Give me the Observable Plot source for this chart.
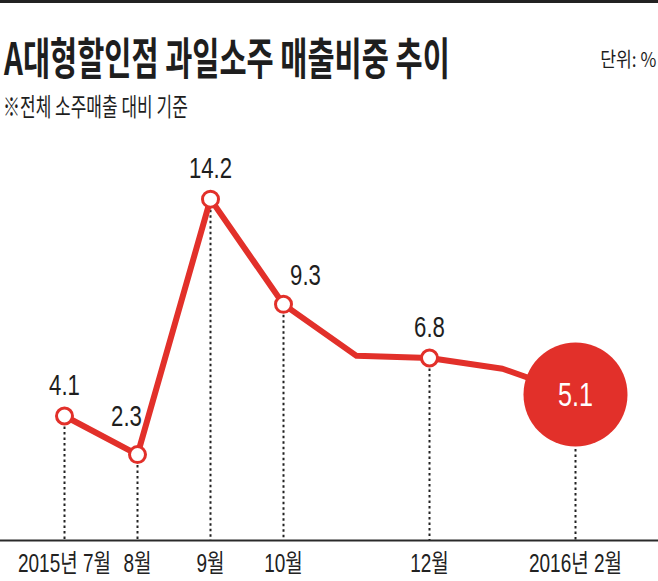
<!DOCTYPE html>
<html><head><meta charset="utf-8">
<script src="https://cdn.jsdelivr.net/npm/d3@7"></script>
<script src="https://cdn.jsdelivr.net/npm/@observablehq/plot@0.6"></script>
<style>
body{margin:0;background:#fff;}
#wrap{position:relative;width:658px;height:581px;overflow:hidden;background:#fff;}
#bar{position:absolute;left:0;top:0;width:658px;height:3px;background:#222;}
.h{position:absolute;white-space:nowrap;line-height:1;transform-origin:0 0;color:#1e1e1e;font-family:"Noto Sans CJK KR",sans-serif;}
#title{left:4px;top:34px;font-size:44px;font-weight:700;transform:scaleX(0.67);}
#sub{left:3px;top:93px;font-size:25px;transform:scaleX(0.68);}
#unit{right:2px;top:49px;font-size:20px;transform-origin:100% 0;transform:scaleX(0.86);}
#chart{position:absolute;left:0;top:130px;}
</style></head>
<body>
<div id="wrap">
  <div id="bar"></div>
  <div class="h" id="title">A대형할인점 과일소주 매출비중 추이</div>
  <div class="h" id="unit">단위: %</div>
  <div class="h" id="sub">※전체 소주매출 대비 기준</div>
  <div id="chart"></div>
</div>
<script>
// ---- data ----
const months = ["2015-07","2015-08","2015-09","2015-10","2015-11","2015-12","2016-01","2016-02"];
const values = [4.1, 2.3, 14.2, 9.3, 6.9, 6.8, 6.3, 5.1];
const tickLabels = ["2015년 7월","8월","9월","10월","","12월","","2016년 2월"];

// ---- build ----
const RED = "#e2302a";
const yDomain = [-1.7, 16];
const data = months.map((m, i) => ({month: m, value: values[i], tick: tickLabels[i], label: values[i].toFixed(1), i}));
const labelOf = new Map(data.map(d => [d.month, d.tick]));
const labeled = data.filter(d => d.tick !== "");
const last = labeled[labeled.length - 1];
const markers = labeled.filter(d => d !== last);
const stdLabels = markers.filter(d => d.value !== 2.3 && d.value !== 9.3);

const chart = Plot.plot({
  width: 658, height: 451,
  marginTop: 30, marginBottom: 41, marginLeft: 62, marginRight: 81,
  style: {fontFamily: '"Liberation Sans","Noto Sans CJK KR",sans-serif', background: "transparent", overflow: "visible", color: "#222"},
  x: {type: "point", domain: months, padding: 0},
  y: {domain: yDomain, axis: null},
  marks: [
    Plot.ruleY([yDomain[0]], {stroke: "#2a2a2a", strokeWidth: 2, insetLeft: -62, insetRight: -81}),
    Plot.ruleX(labeled, {x: "month", y1: "value", y2: () => yDomain[0], stroke: "#222", strokeWidth: 2, strokeDasharray: "2.5,3"}),
    Plot.line(data, {x: "month", y: "value", stroke: RED, strokeWidth: 6, strokeLinejoin: "round"}),
    Plot.dot(markers, {x: "month", y: "value", r: 8, fill: "#fff", stroke: RED, strokeWidth: 3}),
    Plot.dot([last], {x: "month", y: "value", r: 52, fill: RED}),
    Plot.text(stdLabels, {x: "month", y: "value", text: "label", dy: -31, fontSize: 30, fill: "#1e1e1e", className: "num"}),
    Plot.text(markers.filter(d => d.value === 2.3), {x: "month", y: "value", text: "label", dx: -11, dy: -38, fontSize: 30, fill: "#1e1e1e", className: "num"}),
    Plot.text(markers.filter(d => d.value === 9.3), {x: "month", y: "value", text: "label", dx: 22, dy: -29, fontSize: 30, fill: "#1e1e1e", className: "num"}),
    Plot.text([last], {x: "month", y: "value", text: "label", dy: 1, fontSize: 34, fill: "#fff", className: "num"}),
    Plot.axisX({tickSize: 0, tickPadding: 14, tickFormat: m => labelOf.get(m), fontSize: 25, fill: "#222", label: null})
  ]
});
document.getElementById("chart").appendChild(chart);

// condense chart text horizontally (reference uses a condensed typeface)
chart.querySelectorAll("text").forEach(t => {
  const isNum = !!t.closest(".num");
  const s = isNum ? 0.74 : 0.76;
  const tr = t.getAttribute("transform");
  if (tr) {
    t.setAttribute("transform", tr + ` scale(${s},1)`);
  } else {
    const x = +(t.getAttribute("x") || 0), y = +(t.getAttribute("y") || 0);
    t.setAttribute("x", 0); t.setAttribute("y", 0);
    t.setAttribute("transform", `translate(${x},${y}) scale(${s},1)`);
  }
});
</script>
</body></html>
